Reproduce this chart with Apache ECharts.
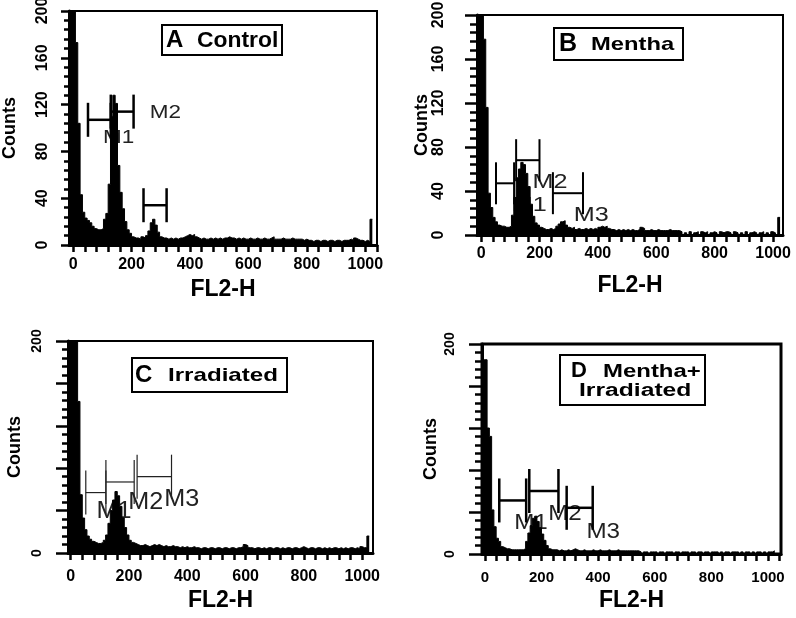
<!DOCTYPE html>
<html><head><meta charset="utf-8">
<script src="https://cdn.jsdelivr.net/npm/echarts@6/dist/echarts.min.js"></script>
<style>html,body{margin:0;padding:0;background:#fff}#c{width:796px;height:618px}</style>
</head><body><div id="c"></div>
<script>
// ---- data: histogram counts in 8-channel bins, first bin starts at channel -8 ----
const binWidth = 8;
const firstBin = -8;

const countsA = [
  240,240,173,104,43,28,23,21,19,16,14,13,13,14,22,27,
  52,110,128,121,68,45,31,20,13,10,7,6,6,5,7,6,
  8,12,19,22,17,11,7,6,6,5,6,5,6,5,6,6,
  7,8,9,8,9,7,6,5,6,5,5,6,5,6,5,6,
  5,6,6,7,6,6,5,6,5,6,5,5,6,5,5,6,
  5,5,6,5,5,6,7,5,5,5,6,5,5,5,6,5,
  5,5,5,4,5,4,4,3,4,4,3,4,4,3,4,4,
  3,4,4,3,4,4,4,5,4,6,5,4,4,3,4,3,
  22
];
const countsB = [
  240,240,178,116,38,25,16,12,9,8,8,7,7,8,18,34,
  52,60,66,64,56,44,28,17,11,9,7,6,5,5,6,5,
  6,8,10,12,13,9,7,6,7,5,6,5,5,6,5,6,
  5,6,5,7,8,7,8,6,5,5,4,5,4,5,4,5,
  4,5,4,4,5,7,6,4,4,5,4,4,5,4,4,4,
  4,5,4,4,4,4,3,0,2,0,3,0,2,3,0,3,
  2,3,0,2,3,2,0,3,2,3,3,2,0,3,2,0,
  2,0,3,0,2,3,2,0,2,3,0,2,0,3,2,0,
  16
];
const countsC = [
  240,240,240,240,143,55,33,22,16,13,11,10,9,9,10,12,
  17,28,40,50,58,54,44,33,24,17,12,10,9,8,7,7,
  8,7,6,7,8,7,8,7,6,7,6,6,7,6,6,5,
  6,5,6,5,5,6,5,5,4,5,5,4,5,5,4,5,
  5,4,5,5,4,5,5,4,5,5,6,8,7,5,5,4,
  5,5,4,5,4,5,5,4,5,5,4,5,4,5,5,4,
  5,5,4,5,6,5,4,5,5,4,5,5,4,5,4,5,
  4,5,5,4,5,4,5,4,5,5,4,5,4,6,5,5,
  16
];
const countsD = [
  185,185,120,112,42,26,15,12,7,6,5,5,4,4,4,4,
  4,4,5,12,20,27,34,36,31,25,19,13,8,5,4,4,
  4,3,4,3,3,4,3,4,5,4,3,3,4,3,3,3,
  4,3,3,4,3,3,3,4,3,3,3,4,3,3,3,3,
  3,3,3,3,3,2,0,2,2,0,2,2,2,0,2,2,
  0,2,2,2,0,2,2,0,2,2,2,0,2,2,0,2,
  2,0,2,2,0,2,2,2,0,2,0,2,2,0,2,2,
  2,0,2,0,2,2,0,2,0,2,2,0,2,0,2,2,
  3
];

// marker gates: [start channel, end channel, display level (counts)]
const markersA = [[51,129,107],[129,207,114],[241,320,34]];
const markersB = [[51,113,47],[120,200,68],[246,349,38]];
const markersC = [[52,121,57],[121,218,67],[228,346,72]];
const markersD = [[51,146,51],[157,260,60],[289,381,44]];
// marker labels: [channel, counts] and their names
const labelPosA = [[156,91],[316,113]];
const labelNamesA = ['M1','M2'];
const labelPosB = [[165,27],[236,48],[377,18]];
const labelNamesB = ['M1','M2','M3'];
const labelPosC = [[149,39],[258,48],[381,51]];
const labelNamesC = ['M1','M2','M3'];
const labelPosD = [[163,30],[283,38],[418,21]];
const labelNamesD = ['M1','M2','M3'];

const xTickLabels = [0,200,400,600,800,1000];
const yTickLabelsAB = [0,40,80,120,160,200];
const yTickLabelsCD = [0,200];
const panelTitles = [['A','Control'],['B','Mentha'],['C','Irradiated'],['D','Mentha+','Irradiated']];
const xName = 'FL2-H';
const yName = 'Counts';

// ---- layout ----
const FONT = "'Liberation Sans', Arial, sans-serif";
const panels = [
  {grid:{left:67,top:11,width:310,height:234}, xmin:-14, xmax:1040, counts:countsA, markers:markersA, lp:labelPosA, ln:labelNamesA,
   yLabels:yTickLabelsAB, yOff:26, yName:50, xMargin:12, xName:33, cap:17, mw:2.5, mColor:'#000', mFont:18, mScale:1.25, majorLen:8, minorLen:5, border:2, yFont:16},
  {grid:{left:477,top:15,width:306,height:220}, xmin:-14, xmax:1034, counts:countsB, markers:markersB, lp:labelPosB, ln:labelNamesB,
   yLabels:yTickLabelsAB, yOff:38, yName:46, xMargin:11, xName:39, cap:21, mw:2, mColor:'#000', mFont:21, mScale:1.2, majorLen:12, minorLen:7, border:2, yFont:16},
  {grid:{left:68,top:341,width:305,height:212}, xmin:-9, xmax:1037, counts:countsC, markers:markersC, lp:labelPosC, ln:labelNamesC,
   yLabels:yTickLabelsCD, yOff:31, yName:44, xMargin:16, xName:36, cap:22, mw:1.2, mColor:'#222', mFont:24, mScale:1.05, majorLen:12, minorLen:6, border:2, yFont:14},
  {grid:{left:482,top:344,width:299,height:210}, xmin:-10, xmax:1046, counts:countsD, markers:markersD, lp:labelPosD, ln:labelNamesD,
   yLabels:yTickLabelsCD, yOff:32, yName:42, xMargin:16, xName:35, cap:22, mw:2.5, mColor:'#000', mFont:22, mScale:1.1, majorLen:13, minorLen:7, border:3, yFont:14}
];

function histData(counts){
  const d = counts.map((c,i)=>[firstBin + i*binWidth, c]);
  d.push([firstBin + counts.length*binWidth, counts[counts.length-1]]);
  return d;
}

const grids=[], xAxes=[], yAxes=[], series=[];
panels.forEach((p,i)=>{
  grids.push(Object.assign({show:true, borderColor:'#000', borderWidth:p.border, backgroundColor:'transparent'}, p.grid));
  const ticks=[]; for(let v=0; v<=p.xmax; v+=40) ticks.push(v);
  xAxes.push({type:'value', gridIndex:i, min:p.xmin, max:p.xmax,
    axisLine:{show:true, onZero:false, lineStyle:{color:'#000', width:3}},
    axisTick:{show:true, customValues:ticks, length:7, lineStyle:{color:'#000', width:2.5}},
    axisLabel:{customValues:xTickLabels, formatter:(v)=>String(v), fontSize: i===3?15:16, fontWeight:'bold', color:'#000', margin:p.xMargin, fontFamily:FONT},
    splitLine:{show:false},
    name:xName, nameLocation:'middle', nameGap:p.xName, nameMoveOverlap:false,
    nameTextStyle:{fontSize:23, fontWeight:'bold', color:'#000', fontFamily:FONT}
  });
  yAxes.push({type:'value', gridIndex:i, min:0, max:200, interval:40,
    axisLine:{show:true, onZero:false, lineStyle:{color:'#000', width:3}},
    axisTick:{show:true, length:p.majorLen, lineStyle:{color:'#000', width:2.5}},
    minorTick:{show:true, splitNumber:5, length:p.minorLen, lineStyle:{color:'#000', width:2.5}},
    axisLabel:{show:false},
    splitLine:{show:false}, minorSplitLine:{show:false},
    name:yName, nameLocation:'middle', nameRotate:90, nameGap:p.yName, nameMoveOverlap:false,
    nameTextStyle:{fontSize:18, fontWeight:'bold', color:'#000', fontFamily:FONT}
  });
  // rotated y tick labels placed through the axis scale
  series.push({type:'custom', xAxisIndex:i, yAxisIndex:i, z:4, silent:true,
    data:p.yLabels.map(v=>[p.xmin, v]),
    renderItem:(params, api)=>{
      const v = api.value(1);
      const c = api.coord([api.value(0), v]);
      return {type:'text', x:c[0]-p.yOff, y:c[1], rotation:Math.PI/2,
        style:{text:String(v), fontSize:p.yFont, fontWeight:'bold', fontFamily:FONT, fill:'#000', align:'center', verticalAlign:'middle'}};
    }});
  // marker labels (drawn beneath the histogram)
  series.push({type:'custom', xAxisIndex:i, yAxisIndex:i, z:1, silent:true, data:p.lp,
    renderItem:(params, api)=>{
      const c = api.coord([api.value(0), api.value(1)]);
      return {type:'text', x:c[0], y:c[1], scaleX:p.mScale,
        style:{text:p.ln[params.dataIndex], fontSize:p.mFont, fontFamily:FONT, fill:'#222', align:'center', verticalAlign:'middle'}};
    }});
  series.push({type:'line', xAxisIndex:i, yAxisIndex:i, z:2, step:'end', symbol:'none', clip:true, silent:true,
    data:histData(p.counts), lineStyle:{color:'#000', width:1}, areaStyle:{color:'#000', opacity:1}});
  series.push({type:'custom', xAxisIndex:i, yAxisIndex:i, z:3, silent:true, data:p.markers,
    renderItem:(params, api)=>{
      const a = api.coord([api.value(0), api.value(2)]);
      const b = api.coord([api.value(1), api.value(2)]);
      const st = {stroke:p.mColor, lineWidth:p.mw};
      const h = p.cap;
      return {type:'group', children:[
        {type:'line', shape:{x1:a[0],y1:a[1],x2:b[0],y2:b[1]}, style:st},
        {type:'line', shape:{x1:a[0],y1:a[1]-h,x2:a[0],y2:a[1]+h}, style:st},
        {type:'line', shape:{x1:b[0],y1:b[1]-h,x2:b[0],y2:b[1]+h}, style:st}
      ]};
    }});
});

function boxText(t, x, y, size, sx){
  return {type:'text', x:x, y:y, scaleX:sx||1, z:11,
    style:{text:t, fontSize:size, fontWeight:'bold', fontFamily:FONT, fill:'#000', align:'left', verticalAlign:'middle'}};
}
const graphic = [
  {type:'rect', shape:{x:162,y:25,width:120,height:30}, style:{fill:'#fff', stroke:'#000', lineWidth:2}, z:10},
  boxText(panelTitles[0][0],166,40,24), boxText(panelTitles[0][1],197,41,22,1.04),
  {type:'rect', shape:{x:554,y:28,width:129,height:32}, style:{fill:'#fff', stroke:'#000', lineWidth:2}, z:10},
  boxText(panelTitles[1][0],559,44,25), boxText(panelTitles[1][1],591,45,19,1.25),
  {type:'rect', shape:{x:132,y:358,width:155,height:34}, style:{fill:'#fff', stroke:'#000', lineWidth:2}, z:10},
  boxText(panelTitles[2][0],135,375,24), boxText(panelTitles[2][1],168,376,19,1.27),
  {type:'rect', shape:{x:560,y:355,width:145,height:50}, style:{fill:'#fff', stroke:'#000', lineWidth:2}, z:10},
  boxText(panelTitles[3][0],571,371,22), boxText(panelTitles[3][1],603,372,18,1.33),
  boxText(panelTitles[3][2],579,391,18,1.37)
];

const chart = echarts.init(document.getElementById('c'), null, {renderer:'canvas'});
chart.setOption({animation:false, backgroundColor:'#fff', grid:grids, xAxis:xAxes, yAxis:yAxes, series:series, graphic:graphic});
</script>
</body></html>
